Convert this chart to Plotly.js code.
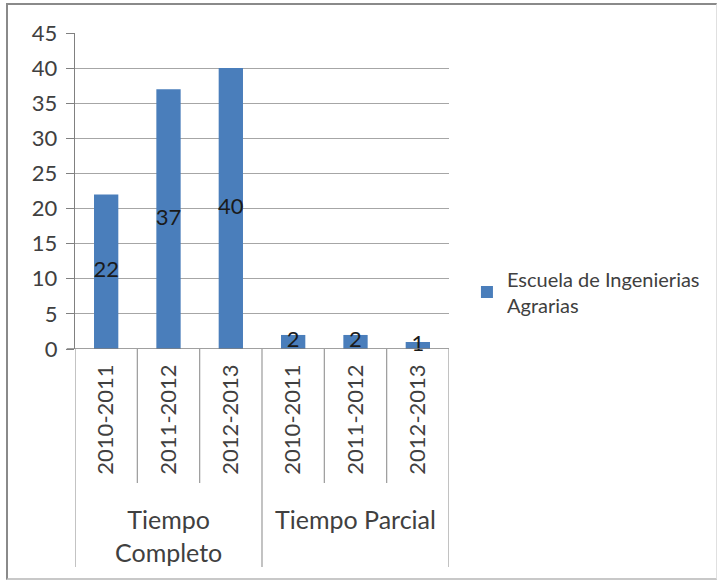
<!DOCTYPE html>
<html>
<head>
<meta charset="utf-8">
<script src="https://cdn.plot.ly/plotly-3.0.1.min.js"></script>
<style>
html,body{margin:0;padding:0;background:#fff;}
#wrap{position:relative;width:717px;height:580px;}
#chart{width:717px;height:580px;}
#frame{position:absolute;left:6px;top:3px;width:708px;height:573px;border-left:2px solid #8a8a8a;border-top:2px solid #8a8a8a;border-right:1px solid #e0e0e0;border-bottom:2px solid #c8c8c8;pointer-events:none;}
</style>
</head>
<body>
<div id="wrap"><div id="chart"></div><div id="frame"></div></div>
<script>
const groups = ["Tiempo<br>Completo", "Tiempo Parcial"];
const groupSizes = [3, 3];
const years = ["2010-2011", "2011-2012", "2012-2013", "2010-2011", "2011-2012", "2012-2013"];
const values = [22, 37, 40, 2, 2, 1];
const seriesName = "Escuela de Ingenierias<br>Agrarias";
const yTicks = [0, 5, 10, 15, 20, 25, 30, 35, 40, 45];

const idx = years.map((_, i) => i);
const FONT = "Lato, 'Open Sans', sans-serif";
const textCol = "#404040";
const lineCol = "#9a9a9a";

const bars = {
  type: "bar",
  x: idx,
  y: values,
  name: seriesName,
  width: 0.39,
  marker: {color: "#4a7ebb"},
  hoverinfo: "skip"
};
const labels = {
  type: "scatter",
  mode: "text",
  x: idx,
  y: values.map(v => v / 2),
  text: values.map(String),
  textfont: {family: FONT, size: 22, color: "#1a1a1a"},
  showlegend: false,
  hoverinfo: "skip",
  cliponaxis: false
};

const shapes = [];
const annotations = [];
let start = 0;
const pxToPaperY = py => (349 - py) / 316;
groupSizes.forEach((n, g) => {
  shapes.push({type: "line", xref: "x", yref: "paper", x0: start - 0.5, x1: start - 0.5,
    y0: 0, y1: pxToPaperY(567), line: {color: lineCol, width: 1.2}});
  for (let k = 1; k < n; k++) {
    shapes.push({type: "line", xref: "x", yref: "paper", x0: start + k - 0.5, x1: start + k - 0.5,
      y0: 0, y1: pxToPaperY(483), line: {color: lineCol, width: 1.2}});
  }
  annotations.push({xref: "x", yref: "paper", x: start + (n - 1) / 2, y: pxToPaperY(502),
    yanchor: "top", xanchor: "center", text: groups[g], showarrow: false,
    font: {family: FONT, size: 25, color: textCol}, align: "center"});
  start += n;
});
shapes.push({type: "line", xref: "x", yref: "paper", x0: start - 0.5, x1: start - 0.5,
  y0: 0, y1: pxToPaperY(567), line: {color: lineCol, width: 1.2}});
shapes.push({type: "line", xref: "paper", yref: "y", x0: -0.022, x1: 1, y0: 0, y1: 0,
  line: {color: "#808080", width: 1.5}});

const layout = {
  width: 717, height: 580,
  margin: {l: 75, r: 268, t: 33, b: 231},
  paper_bgcolor: "#ffffff",
  plot_bgcolor: "#ffffff",
  showlegend: true,
  legend: {x: 1.048, y: 0.18, xanchor: "left", yanchor: "middle",
    font: {family: FONT, size: 20, color: textCol}, itemwidth: 30, tracegroupgap: 0},
  xaxis: {
    type: "linear", range: [-0.5, 5.5],
    tickvals: idx, ticktext: years, tickangle: -90,
    tickfont: {family: FONT, size: 22, color: textCol},
    ticks: "", showgrid: false, zeroline: false, showline: false,
    ticklabelstandoff: 10
  },
  yaxis: {
    range: [0, 45], tickvals: yTicks,
    tickfont: {family: FONT, size: 22, color: textCol},
    ticks: "outside", ticklen: 8, tickcolor: "#808080",
    showgrid: true, gridcolor: "#a6a6a6", gridwidth: 1.2,
    zeroline: false, showline: true, linecolor: "#808080", linewidth: 1.2,
    ticklabelstandoff: 4
  },
  shapes: shapes,
  annotations: annotations
};

Plotly.newPlot("chart", [bars, labels], layout, {displayModeBar: false, staticPlot: true});
</script>
</body>
</html>
